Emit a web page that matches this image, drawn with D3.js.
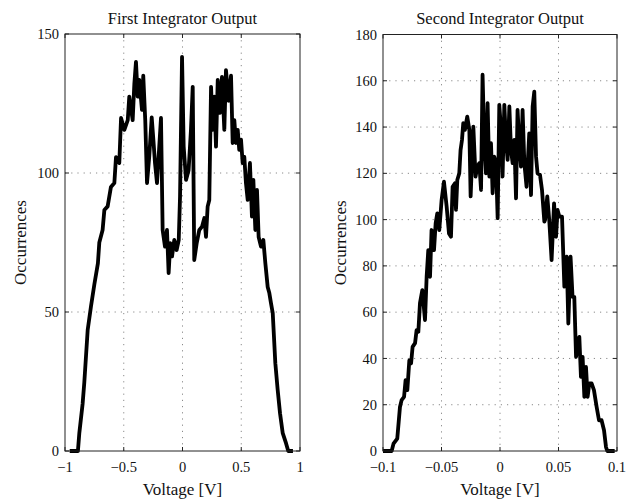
<!DOCTYPE html>
<html><head><meta charset="utf-8">
<script src="https://cdn.jsdelivr.net/npm/d3@7"></script>
<style>
body{margin:0;background:#fff}
text{font-family:"Liberation Serif","Times New Roman",serif;fill:#111}
</style></head>
<body><svg id="c" width="634" height="499"></svg>
<script>
// ---- data ----
const leftTitle = "First Integrator Output";
const rightTitle = "Second Integrator Output";
const xLabel = "Voltage [V]";
const yLabel = "Occurrences";

const leftXTicks = [-1, -0.5, 0, 0.5, 1];
const leftXTickLabels = ["\u22121", "\u22120.5", "0", "0.5", "1"];
const leftYTicks = [0, 50, 100, 150];

const rightXTicks = [-0.1, -0.05, 0, 0.05, 0.1];
const rightXTickLabels = ["\u22120.1", "\u22120.05", "0", "0.05", "0.1"];
const rightYTicks = [0, 20, 40, 60, 80, 100, 120, 140, 160, 180];

const leftV = [-0.96,-0.89,-0.878,-0.85,-0.836,-0.807,-0.779,-0.75,-0.72,-0.708,-0.68,-0.665,-0.637,-0.609,-0.58,-0.566,-0.538,-0.523,-0.495,-0.466,-0.453,-0.424,-0.41,-0.396,-0.381,-0.368,-0.345,-0.334,-0.317,-0.302,-0.283,-0.262,-0.248,-0.234,-0.217,-0.203,-0.183,-0.169,-0.149,-0.132,-0.118,-0.104,-0.089,-0.07,-0.05,-0.032,-0.021,-0.004,0.01,0.03,0.052,0.072,0.087,0.1,0.121,0.143,0.166,0.186,0.2,0.214,0.228,0.243,0.257,0.271,0.285,0.3,0.319,0.336,0.356,0.37,0.393,0.413,0.427,0.441,0.455,0.47,0.483,0.498,0.512,0.526,0.54,0.555,0.574,0.591,0.603,0.62,0.634,0.648,0.668,0.688,0.705,0.725,0.739,0.753,0.768,0.79,0.81,0.83,0.853,0.881,0.9,0.94];
const leftCount = [0,0,6.5,17,24.5,43.5,52,60,67.5,75,79.5,86.7,88,95,96.4,105.7,103.6,119.8,115.5,119,127.5,119,132,140,127.5,133.5,122.7,135,119,96.4,105.9,120,112,103.6,96.4,105.9,119.8,79.5,73.5,79.5,64,74.8,70,75.9,72.3,75.9,91.5,141.8,109.5,97.5,101,115.5,131,68.7,74.8,79.5,80.7,83.8,77,87.9,90.3,131,115.5,127.5,109.5,133.5,121.6,134.6,115.5,137,126,135,110.8,119,110.8,115.5,108.3,112,103.6,105.8,96.4,90.3,103.6,84.3,97.5,79.5,93.9,77,73.5,75.9,67.6,59,56.8,53.2,49.6,31.6,22,13.6,6.4,2.8,0,0];

const rightV = [-0.1,-0.0926,-0.091,-0.0878,-0.0855,-0.0841,-0.082,-0.0807,-0.0792,-0.0775,-0.076,-0.0747,-0.0726,-0.0713,-0.0698,-0.0684,-0.0664,-0.0641,-0.0627,-0.0613,-0.0598,-0.0585,-0.0564,-0.055,-0.0536,-0.0519,-0.0499,-0.0479,-0.0456,-0.0436,-0.0419,-0.0405,-0.0385,-0.0376,-0.0365,-0.0348,-0.0337,-0.0325,-0.0314,-0.030,-0.028,-0.0262,-0.0251,-0.0228,-0.0209,-0.0194,-0.0177,-0.0162,-0.0149,-0.0134,-0.012,-0.0106,-0.0091,-0.0077,-0.0063,-0.0049,-0.0034,-0.002,-0.0006,0.0009,0.0022,0.0037,0.0051,0.0065,0.008,0.0094,0.0108,0.0122,0.0137,0.015,0.0165,0.0179,0.0193,0.0208,0.0227,0.025,0.0265,0.0279,0.0293,0.0308,0.0321,0.0342,0.0359,0.0379,0.0385,0.0404,0.0421,0.0441,0.0462,0.0479,0.0492,0.0507,0.053,0.055,0.057,0.0584,0.0603,0.062,0.0635,0.065,0.0663,0.0678,0.0692,0.0706,0.0721,0.0735,0.0749,0.0763,0.0783,0.0803,0.0826,0.0846,0.0868,0.0889,0.0906,0.0917,0.098];
const rightCount = [0,0,3.2,5.4,19,22,23.4,30.6,26.3,39.2,37.9,45,46.6,52.2,51.5,63.9,69.5,56.6,75.3,86.8,75.3,95.5,86.8,98.4,102.7,95.5,108.5,116.4,105.6,94,92.6,114.2,115.7,104.2,117.1,120,130.1,134.4,141.7,138.8,144.5,138.8,110,140.2,118.6,122.9,124.4,112.8,162.6,133,120,150.3,118.6,133,111.4,127.2,124.4,100.6,149.6,138.8,118.6,149.6,134.4,125.8,148.9,130.1,124.4,134.4,109.2,147.4,133,122.9,147.4,124.4,114.2,137.3,110.6,148.9,155.3,127.2,120,119.3,112.8,99.1,99.8,110,99.8,82.5,107,92.6,104.2,101.3,101.3,71,84,55.1,84,66.6,66.6,40.7,45,49.3,32,40.7,23.4,36.3,23.4,29.2,29.2,26.3,19,13.3,13.3,9,1.7,0,0];

// ---- drawing ----
const svg = d3.select("#c");

function panel(o) {
  const x = d3.scaleLinear().domain(o.xDomain).range([o.x0, o.x1]);
  const y = d3.scaleLinear().domain(o.yDomain).range([o.y1, o.y0]);
  const g = svg.append("g");

  // grid
  g.selectAll(".gx").data(o.xTicks.slice(1, -1)).enter().append("line")
    .attr("x1", d => x(d)).attr("x2", d => x(d)).attr("y1", o.y0).attr("y2", o.y1)
    .attr("stroke", "#8a8a8a").attr("stroke-width", 1).attr("stroke-dasharray", "1.2,5");
  g.selectAll(".gy").data(o.yTicks.slice(1, -1)).enter().append("line")
    .attr("y1", d => y(d)).attr("y2", d => y(d)).attr("x1", o.x0).attr("x2", o.x1)
    .attr("stroke", "#8a8a8a").attr("stroke-width", 1).attr("stroke-dasharray", "1.2,5");

  // ticks inside
  const tl = 4;
  o.xTicks.forEach(t => {
    g.append("line").attr("x1", x(t)).attr("x2", x(t)).attr("y1", o.y1).attr("y2", o.y1 - tl).attr("stroke", "#222");
    g.append("line").attr("x1", x(t)).attr("x2", x(t)).attr("y1", o.y0).attr("y2", o.y0 + tl).attr("stroke", "#222");
  });
  o.yTicks.forEach(t => {
    g.append("line").attr("y1", y(t)).attr("y2", y(t)).attr("x1", o.x0).attr("x2", o.x0 + tl).attr("stroke", "#222");
    g.append("line").attr("y1", y(t)).attr("y2", y(t)).attr("x1", o.x1).attr("x2", o.x1 - tl).attr("stroke", "#222");
  });

  // data line
  const pts = o.v.map((v, i) => [v, o.c[i]]);
  g.append("path").datum(pts)
    .attr("d", d3.line().x(d => x(d[0])).y(d => y(d[1])))
    .attr("fill", "none").attr("stroke", "#000").attr("stroke-width", 3.8)
    .attr("stroke-linejoin", "round");

  // box
  g.append("rect").attr("x", o.x0).attr("y", o.y0).attr("width", o.x1 - o.x0).attr("height", o.y1 - o.y0)
    .attr("fill", "none").attr("stroke", "#222").attr("stroke-width", 1);

  // tick labels
  g.selectAll(".xl").data(o.xTicks).enter().append("text")
    .attr("x", d => x(d)).attr("y", o.y1 + 21).attr("text-anchor", "middle")
    .attr("font-size", 14.5).text((d, i) => o.xTickLabels[i]);
  g.selectAll(".yl").data(o.yTicks).enter().append("text")
    .attr("x", o.x0 - 6).attr("y", d => y(d)).attr("dy", "0.35em").attr("text-anchor", "end")
    .attr("font-size", 14.5).text(d => d);

  // title and labels
  g.append("text").attr("x", (o.x0 + o.x1) / 2).attr("y", 23.5).attr("text-anchor", "middle")
    .attr("font-size", 16.5).text(o.title);
  g.append("text").attr("x", (o.x0 + o.x1) / 2).attr("y", 495).attr("text-anchor", "middle")
    .attr("font-size", 17).text(xLabel);
  g.append("text").attr("transform", `translate(${o.ylx},${(o.y0 + o.y1) / 2}) rotate(-90)`)
    .attr("text-anchor", "middle").attr("font-size", 17).text(yLabel);
}

panel({x0: 65, x1: 300, y0: 34, y1: 451, xDomain: [-1, 1], yDomain: [0, 150],
  xTicks: leftXTicks, xTickLabels: leftXTickLabels, yTicks: leftYTicks,
  v: leftV, c: leftCount, title: leftTitle, ylx: 26});
panel({x0: 383, x1: 617, y0: 34.5, y1: 451, xDomain: [-0.1, 0.1], yDomain: [0, 180],
  xTicks: rightXTicks, xTickLabels: rightXTickLabels, yTicks: rightYTicks,
  v: rightV, c: rightCount, title: rightTitle, ylx: 346});
</script></body></html>
